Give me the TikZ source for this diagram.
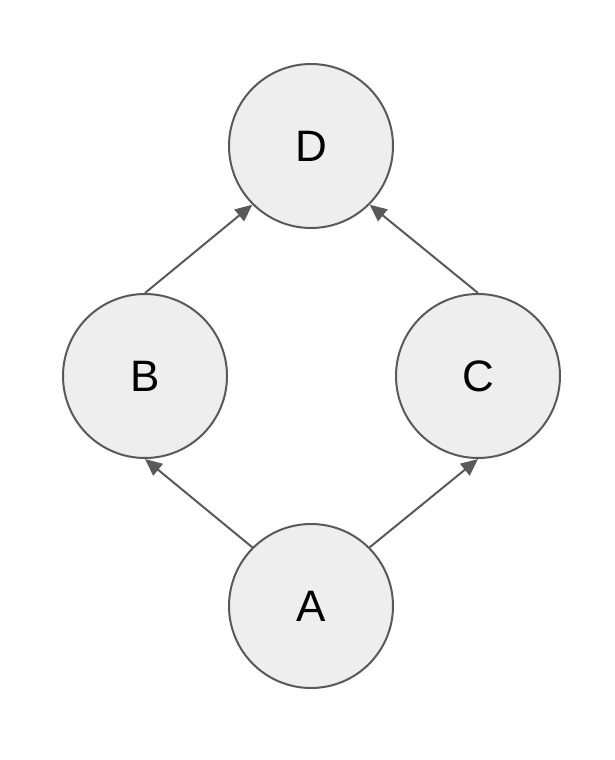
\documentclass[tikz,border=0pt]{standalone}
\usepackage{fontspec}
\setmainfont{Liberation Sans}
\usetikzlibrary{arrows.meta}
\definecolor{nodefill}{HTML}{EEEEEE}
\definecolor{edgecol}{HTML}{595959}
\tikzset{
  vnode/.style={circle, draw=edgecol, fill=nodefill, line width=2pt, minimum size=164pt, inner sep=0pt, font=\fontsize{44}{50}\selectfont},
  conn/.style={draw=edgecol, line width=2pt, -{Triangle[length=17pt,width=15pt]}}
}
\begin{document}
\begin{tikzpicture}[x=1pt,y=1pt]
\useasboundingbox (0,0) rectangle (614,-760);
\node[vnode] (D) at (311,-146) {D};
\node[vnode] (B) at (145,-376) {B};
\node[vnode] (C) at (478,-376) {C};
\node[vnode] (A) at (311,-606) {A};
\draw[conn] (B.north) -- (D.225);
\draw[conn] (C.north) -- (D.-45);
\draw[conn] (A.135) -- (B.south);
\draw[conn] (A.45) -- (C.south);
\end{tikzpicture}
\end{document}
